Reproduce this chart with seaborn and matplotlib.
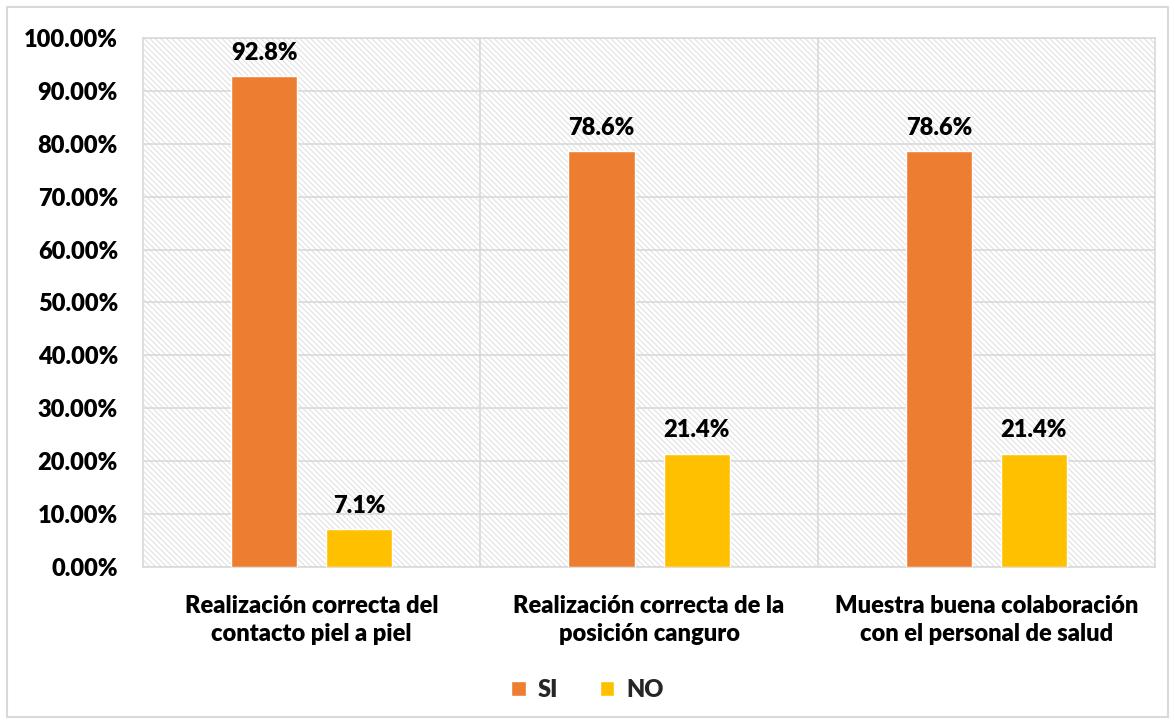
import pandas as pd
import numpy as np
import matplotlib.pyplot as plt
import seaborn as sns
from matplotlib.ticker import PercentFormatter, MultipleLocator
from matplotlib.patches import Rectangle

# data
categorias = ["Realización correcta del\ncontacto piel a piel",
              "Realización correcta de la\nposición canguro",
              "Muestra buena colaboración\ncon el personal de salud"]
si_vals = [0.928, 0.786, 0.786]
no_vals = [0.071, 0.214, 0.214]
series = ["SI", "NO"]
colores = ["#ED7D31", "#FFC000"]

df = pd.DataFrame({"Categoria": categorias * 2,
                   "Respuesta": ["SI"] * 3 + ["NO"] * 3,
                   "Valor": si_vals + no_vals})

sns.set_style("white")
plt.rcParams['font.family'] = ['Lato', 'DejaVu Sans']
plt.rcParams['font.weight'] = 'heavy'
plt.rcParams['hatch.linewidth'] = 0.7
plt.rcParams['hatch.color'] = '#dedede'

FS = 17
W = "heavy"

fig = plt.figure(figsize=(11.75, 7.24), dpi=100)
ax = fig.add_axes([0.1217, 0.2169, 0.8613, 0.7306])

# hatched background
ax.add_patch(Rectangle((0, 0), 1, 1, transform=ax.transAxes, facecolor="white",
                       edgecolor="#dedede", hatch="\\\\\\\\\\\\", linewidth=0, zorder=0))

sns.barplot(data=df, x="Categoria", y="Valor", hue="Respuesta", hue_order=series,
            palette=colores, saturation=1, width=0.564, gap=0.305, ax=ax, zorder=3,
            legend=True)

for cont in ax.containers:
    ax.bar_label(cont, fmt=lambda v: f"{v*100:.1f}%", padding=9, fontsize=FS,
                 fontweight=W, color="black")

ax.set_ylim(0, 1)
ax.set_xlim(-0.5, 2.5)
ax.yaxis.set_major_locator(MultipleLocator(0.1))
ax.yaxis.set_major_formatter(PercentFormatter(1.0, decimals=2))
ax.set_xlabel("")
ax.set_ylabel("")
ax.tick_params(axis="both", length=0, labelsize=FS)
ax.tick_params(axis="x", pad=20)
ax.tick_params(axis="y", pad=18)
for lbl in ax.get_xticklabels() + ax.get_yticklabels():
    lbl.set_fontweight(W)
    lbl.set_color("black")
    lbl.set_linespacing(1.35)

ax.grid(axis="y", color="#d9d9d9", linewidth=1.2, zorder=1)
ax.set_axisbelow(True)
for xb in [0.5, 1.5]:
    ax.axvline(xb, color="#d9d9d9", linewidth=1.2, zorder=1)
for sp in ax.spines.values():
    sp.set_color("#d9d9d9")
    sp.set_linewidth(1.2)

handles, labels = ax.get_legend_handles_labels()
ax.get_legend().remove()
leg = fig.legend(handles, labels, loc="center", bbox_to_anchor=(0.5, 0.047),
                 ncol=2, frameon=False, fontsize=FS, handlelength=0.6, handleheight=0.6,
                 columnspacing=1.8, handletextpad=0.5)
for t in leg.get_texts():
    t.set_fontweight(W)

# outer border of chart
fig.patches.append(Rectangle((0.006, 0.01), 0.988, 0.98, transform=fig.transFigure,
                             fill=False, edgecolor="#d9d9d9", linewidth=1.5))

fig.savefig("out.png", dpi=100)
